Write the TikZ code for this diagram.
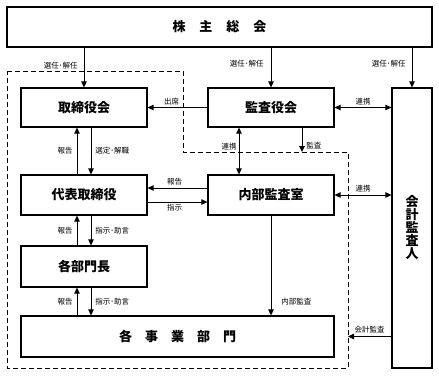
\documentclass[tikz,border=0pt]{standalone}
\usepackage{fontspec}
\setmainfont{Noto Sans CJK JP}
\usetikzlibrary{arrows.meta,calc}
\tikzset{
  box/.style={draw, line width=1.2pt, inner sep=0pt, font=\fontsize{13}{15}\selectfont\bfseries},
  arr/.style={line width=0.9pt, -{Triangle[length=6pt,width=5.5pt]}},
  darr/.style={line width=0.9pt, {Triangle[length=6pt,width=5.5pt]}-{Triangle[length=6pt,width=5.5pt]}},
  lbl/.style={font=\fontsize{7.5}{9}\selectfont, inner sep=1pt},
  dashbox/.style={line width=1pt, dash pattern=on 5pt off 3pt}
}
\begin{document}
\begin{tikzpicture}[x=1pt,y=-1pt]
\useasboundingbox (0,0) rectangle (439,376);
% dashed region
\coordinate (d1) at (7,71);
\coordinate (d2) at (183,71);
\coordinate (d3) at (183,152);
\coordinate (d4) at (348,152);
\coordinate (d5) at (348,368);
\coordinate (d6) at (7,368);
\draw[dashbox] (d1) -- (d2) -- (d3) -- (d4) -- (d5) -- (d6) -- cycle;
% boxes
\node[box, minimum width=425pt, minimum height=40pt] (sh) at (219.5,27) {株\hspace{14pt}主\hspace{14pt}総\hspace{14pt}会};
\node[box, minimum width=126pt, minimum height=39pt] (tb) at (84,107.5) {取締役会};
\node[box, minimum width=126pt, minimum height=39pt] (ka) at (271,107.5) {監査役会};
\node[box, minimum width=40pt, minimum height=280pt, align=center] (ai) at (412,228) {会\\[-2pt]計\\[-2pt]監\\[-2pt]査\\[-2pt]人};
\node[box, minimum width=126pt, minimum height=40pt] (dt) at (84,195) {代表取締役};
\node[box, minimum width=126pt, minimum height=40pt] (nb) at (271,195) {内部監査室};
\node[box, minimum width=126pt, minimum height=41pt] (bm) at (84,266.5) {各部門長};
\node[box, minimum width=313pt, minimum height=41pt] (jb) at (177.5,336.5) {各\hspace{13pt}事\hspace{13pt}業\hspace{13pt}部\hspace{13pt}門};
% shareholders
\draw[arr] (tb.north |- sh.south) -- node[lbl, left=5pt, pos=0.45]{選任･解任} (tb.north);
\draw[arr] (ka.north |- sh.south) -- node[lbl, left=6pt, pos=0.4]{選任･解任} (ka.north);
\draw[arr] (ai.north |- sh.south) -- node[lbl, left=5pt, pos=0.4]{選任･解任} (ai.north);
% board / auditors
\draw[arr] (ka.west) -- node[lbl, above=1pt, pos=0.6]{出席} (tb.east);
\draw[darr] (ka.east) -- node[lbl, above=1pt]{連携} (ai.west |- ka.east);
\draw[arr] ([xshift=-7pt]dt.north) -- node[lbl, left=3pt]{報告} ([xshift=-7pt]tb.south);
\draw[arr] ([xshift=7pt]tb.south) -- node[lbl, right=3pt]{選定･解職} ([xshift=7pt]dt.north);
\draw[darr] ([xshift=-32pt]ka.south) -- node[lbl, left=1pt, pos=0.4]{連携} ([xshift=-32pt]nb.north);
\draw[arr] ([xshift=31pt]ka.south) -- node[lbl, right=3pt, pos=0.75]{監査} ([xshift=31pt]ka.south |- d4);
% internal audit
\draw[arr] ([yshift=7pt]nb.west) -- node[lbl, above=1pt, pos=0.55]{報告} ([yshift=7pt]dt.east);
\draw[arr] ([yshift=-7pt]dt.east) -- node[lbl, below=1pt, pos=0.45]{指示} ([yshift=-7pt]nb.west);
\draw[darr] (nb.east) -- node[lbl, above=1pt]{連携} (ai.west |- nb.east);
% chain down
\draw[arr] ([xshift=-7pt]bm.north) -- node[lbl, left=3pt]{報告} ([xshift=-7pt]dt.south);
\draw[arr] ([xshift=7pt]dt.south) -- node[lbl, right=3pt]{指示･助言} ([xshift=7pt]bm.north);
\draw[arr] ([xshift=-7pt]bm.south |- jb.north) -- node[lbl, left=3pt]{報告} ([xshift=-7pt]bm.south);
\draw[arr] ([xshift=7pt]bm.south) -- node[lbl, right=3pt]{指示･助言} ([xshift=7pt]bm.south |- jb.north);
\draw[arr] (nb.south) -- node[lbl, right=9pt, pos=0.86]{内部監査} (nb.south |- jb.north);
\draw[arr] (ai.west |- jb.east) -- node[lbl, above=2pt]{会計監査} (d5 |- jb.east);
\end{tikzpicture}
\end{document}
